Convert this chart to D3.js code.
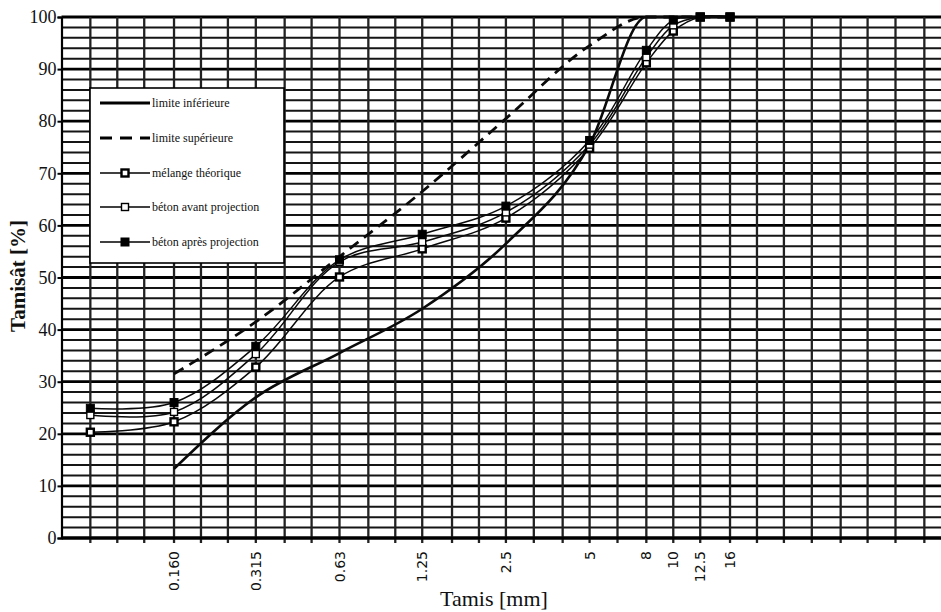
<!DOCTYPE html>
<html>
<head>
<meta charset="utf-8">
<script src="https://cdn.jsdelivr.net/npm/d3@7"></script>
<style>
  html, body { margin: 0; padding: 0; background: #fff; }
  svg { display: block; }
</style>
</head>
<body>
<svg id="chart" width="941" height="612"></svg>
<script>
// ---------- data ----------
const sieves = [0.08, 0.16, 0.315, 0.63, 1.25, 2.5, 5, 8, 10, 12.5, 16];
const sieveLabels = ["", "0.160", "0.315", "0.63", "1.25", "2.5", "5", "8", "10", "12.5", "16"];
const gridSieves = [0.063, 0.08, 0.1, 0.125, 0.16, 0.2, 0.25, 0.315, 0.4, 0.5, 0.63, 0.8, 1, 1.25, 1.6, 2, 2.5, 3.15, 4, 5, 6.3, 8, 10, 12.5, 16, 20, 25, 31.5, 40, 50, 63, 80, 100];
const limiteInf = [null, 13.3, 27, 35.5, 44, 56.5, 75.5, 100, 100, 100, 100];
const limiteSup = [null, 31.5, 41.5, 54, 66.5, 80.5, 94.5, 100, 100, 100, 100];
const melange  = [20.3, 22.3, 32.8, 50.1, 55.5, 61.4, 74.8, 91.2, 97.3, 100, 100];
const avant    = [23.6, 24.2, 35.3, 53.0, 56.8, 62.5, 75.5, 92.3, 98.4, 100, 100];
const apres    = [24.9, 26.0, 36.8, 53.4, 58.3, 63.7, 76.3, 93.6, 99.4, 100, 100];
const yTicks = [0, 10, 20, 30, 40, 50, 60, 70, 80, 90, 100];
const legendLabels = ["limite inférieure", "limite supérieure", "mélange théorique", "béton avant projection", "béton après projection"];

// ---------- scales ----------
const svg = d3.select("#chart");
const x0 = 61.5, colW = 27.8;
const x = d3.scaleLog().domain([0.063, 0.063 * Math.pow(10, 3.2)]).range([x0, x0 + 32 * colW]);
const y = d3.scaleLinear().domain([0, 100]).range([538, 17]);
const xRight = 941;

// ---------- grid ----------
const grid = svg.append("g");
d3.range(0, 101, 2).forEach(v => {
  const major = v % 10 === 0;
  grid.append("line")
    .attr("x1", x0).attr("x2", xRight)
    .attr("y1", y(v)).attr("y2", y(v))
    .attr("stroke", major ? "#000" : "#151515")
    .attr("stroke-width", major ? 2.8 : 2);
});
gridSieves.filter(d => x(d) > x0 + 1 && x(d) < xRight + 5).forEach(d => {
  grid.append("line")
    .attr("x1", x(d)).attr("x2", x(d))
    .attr("y1", y(100)).attr("y2", y(0) + 5)
    .attr("stroke", "#222")
    .attr("stroke-width", 2.3);
});

// axes
const yAxis = d3.axisLeft(y).tickValues(yTicks).tickSize(4).tickFormat(d3.format("d"));
const gy = svg.append("g").attr("transform", `translate(${x0},0)`).call(yAxis);
gy.select(".domain").attr("stroke", "#000").attr("stroke-width", 2.2);
gy.selectAll(".tick line").attr("stroke", "#000").attr("stroke-width", 2);
gy.selectAll(".tick text")
  .attr("x", -5)
  .attr("font-family", "'Liberation Serif', 'Times New Roman', serif")
  .attr("font-size", 18)
  .attr("fill", "#111");

svg.append("line")
  .attr("x1", x0).attr("x2", xRight)
  .attr("y1", y(0)).attr("y2", y(0))
  .attr("stroke", "#000").attr("stroke-width", 2.8);

// x tick labels (rotated)
const xl = svg.append("g");
sieves.forEach((d, i) => {
  if (!sieveLabels[i]) return;
  xl.append("text")
    .attr("transform", `translate(${x(d)},551) rotate(-90)`)
    .attr("text-anchor", "end")
    .attr("dy", "0.36em")
    .attr("font-family", "'DejaVu Sans', Verdana, sans-serif")
    .attr("font-size", 14)
    .attr("fill", "#111")
    .text(sieveLabels[i]);
});

// axis titles
svg.append("text")
  .attr("x", 494).attr("y", 606)
  .attr("text-anchor", "middle")
  .attr("font-family", "'Liberation Serif', 'Times New Roman', serif")
  .attr("font-size", 22)
  .attr("fill", "#111")
  .text("Tamis [mm]");
svg.append("text")
  .attr("transform", "translate(25,276) rotate(-90)")
  .attr("text-anchor", "middle")
  .attr("font-family", "'Liberation Serif', 'Times New Roman', serif")
  .attr("font-weight", "bold")
  .attr("font-size", 21)
  .attr("fill", "#111")
  .text("Tamisât [%]");

// ---------- series ----------
function pts(vals) {
  return sieves.map((s, i) => ({ s, v: vals[i] })).filter(p => p.v != null);
}
const lineSmooth = d3.line().x(p => x(p.s)).y(p => y(p.v)).curve(d3.curveCatmullRom.alpha(0.5));
const lineMono = d3.line().x(p => x(p.s)).y(p => y(p.v)).curve(d3.curveMonotoneX);

const series = [
  { vals: limiteInf, width: 2.6, dash: null, marker: null, gen: lineMono },
  { vals: limiteSup, width: 2.8, dash: "11,7", marker: null, gen: lineMono },
  { vals: melange, width: 1.5, dash: null, marker: "thick", gen: lineSmooth },
  { vals: avant, width: 1.5, dash: null, marker: "open", gen: lineSmooth },
  { vals: apres, width: 1.5, dash: null, marker: "filled", gen: lineSmooth }
];
const plot = svg.append("g");
series.forEach(sr => {
  plot.append("path")
    .datum(pts(sr.vals))
    .attr("d", sr.gen)
    .attr("fill", "none")
    .attr("stroke", "#0a0a0a")
    .attr("stroke-width", sr.width)
    .attr("stroke-dasharray", sr.dash);
});
function drawMarker(g, type, cx, cy) {
  const s = type === "filled" ? 8 : 7;
  g.append("rect")
    .attr("x", cx - s / 2).attr("y", cy - s / 2)
    .attr("width", s).attr("height", s)
    .attr("fill", type === "filled" ? "#000" : "#fff")
    .attr("stroke", "#000")
    .attr("stroke-width", type === "thick" ? 2.4 : (type === "open" ? 1.4 : 1));
}
series.forEach(sr => {
  if (!sr.marker) return;
  pts(sr.vals).forEach(p => drawMarker(plot, sr.marker, x(p.s), y(p.v)));
});

// ---------- legend ----------
const lg = svg.append("g");
lg.append("rect")
  .attr("x", 90).attr("y", 88).attr("width", 194).attr("height", 175)
  .attr("fill", "#fff").attr("stroke", "#000").attr("stroke-width", 1.6);
const rowY = [103, 138, 173, 207, 242];
series.forEach((sr, i) => {
  lg.append("line")
    .attr("x1", 100).attr("x2", 150)
    .attr("y1", rowY[i]).attr("y2", rowY[i])
    .attr("stroke", "#000")
    .attr("stroke-width", sr.marker ? 1.6 : 2.8)
    .attr("stroke-dasharray", sr.dash ? "12,8" : null);
  if (sr.marker) drawMarker(lg, sr.marker, 125, rowY[i]);
  lg.append("text")
    .attr("x", 152).attr("y", rowY[i])
    .attr("dy", "0.32em")
    .attr("font-family", "'Liberation Serif', 'Times New Roman', serif")
    .attr("font-size", 12)
    .attr("fill", "#111")
    .text(legendLabels[i]);
});
</script>
</body>
</html>
